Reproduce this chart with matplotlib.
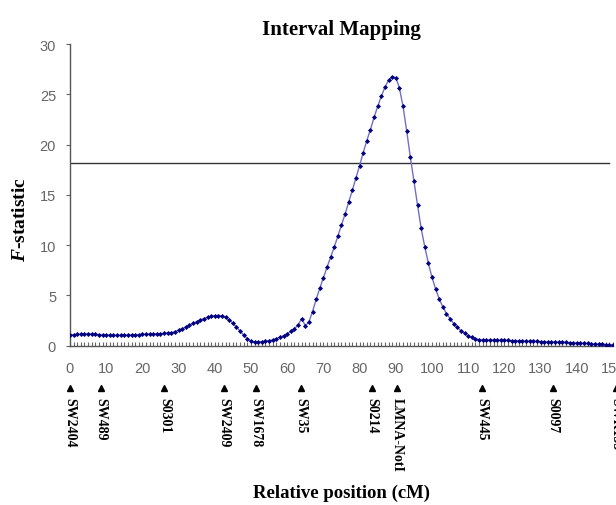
import matplotlib
matplotlib.use('Agg')
import matplotlib.pyplot as plt

plt.rcParams['mathtext.fontset'] = 'custom'
plt.rcParams['mathtext.it'] = 'Liberation Serif:italic:bold'
plt.rcParams['mathtext.rm'] = 'Liberation Serif:bold'

# F-statistic along the chromosome, one point per cM
position = list(range(0, 151))
f_stat = [
    1.05, 1.10, 1.12, 1.15, 1.17, 1.18, 1.17, 1.15, 1.10, 1.07,
    1.05, 1.03, 1.02, 1.02, 1.03, 1.05, 1.07, 1.08, 1.10, 1.10,
    1.12, 1.13, 1.15, 1.17, 1.18, 1.20, 1.22, 1.25, 1.30, 1.40,
    1.55, 1.70, 1.88, 2.05, 2.22, 2.40, 2.55, 2.70, 2.82, 2.92,
    2.98, 3.00, 2.98, 2.82, 2.55, 2.22, 1.85, 1.45, 1.05, 0.70,
    0.45, 0.35, 0.35, 0.40, 0.45, 0.50, 0.58, 0.70, 0.85, 1.00,
    1.20, 1.42, 1.70, 2.05, 2.70, 2.00, 2.35, 3.40, 4.60, 5.70,
    6.75, 7.80, 8.80, 9.80, 10.9, 12.0, 13.1, 14.3, 15.45, 16.7,
    17.9, 19.2, 20.4, 21.5, 22.7, 23.8, 24.8, 25.7, 26.4, 26.75,
    26.65, 25.65, 23.8, 21.4, 18.8, 16.4, 14.0, 11.7, 9.85, 8.2,
    6.8, 5.65, 4.65, 3.86, 3.2, 2.7, 2.2, 1.83, 1.5, 1.23,
    1.0, 0.83, 0.70, 0.60, 0.57, 0.57, 0.57, 0.56, 0.56, 0.55,
    0.54, 0.52, 0.50, 0.48, 0.47, 0.47, 0.46, 0.45, 0.44, 0.42,
    0.41, 0.40, 0.38, 0.37, 0.36, 0.35, 0.33, 0.32, 0.30, 0.28,
    0.27, 0.25, 0.23, 0.22, 0.20, 0.18, 0.16, 0.14, 0.12, 0.11,
    0.10,
]
threshold = 18.2

# marker names and their map positions (cM)
marker_names = ['SW2404', 'SW489', 'S0301', 'SW2409', 'SW1678', 'SW35',
                'S0214', 'LMNA-NotI', 'SW445', 'S0097', 'SWR135']
marker_pos = [0, 8.6, 26.1, 42.5, 51.4, 63.9, 83.3, 90.3, 113.9, 133.3, 150.8]

fig = plt.figure(figsize=(6.16, 5.06), dpi=100)
ax = fig.add_axes([0.1136, 0.3148, 0.8815, 0.5962])

ax.plot(position, f_stat, '-', color='#7070c8', lw=1.0, zorder=2)
ax.plot(position, f_stat, 'D', color='#000080', ms=2.6, mew=0, zorder=3)
ax.plot([0, 149], [threshold, threshold], color='#333333', lw=1.0, zorder=1)

ax.set_xlim(0, 150)
ax.set_ylim(0, 30)
ax.set_xticks(range(0, 151, 10))
ax.set_xticks(range(0, 151, 1), minor=True)
ax.set_yticks(range(0, 31, 5))

for s in ['top', 'right']:
    ax.spines[s].set_visible(False)
for s in ['left', 'bottom']:
    ax.spines[s].set_color('#555555')
    ax.spines[s].set_linewidth(1.0)

ax.tick_params(axis='x', which='both', direction='in', length=3, width=0.8,
               color='#666666', pad=11, labelcolor='#666666')
ax.tick_params(axis='y', direction='out', length=3, width=0.8,
               color='#666666', pad=7, labelcolor='#666666')
for lab in ax.get_xticklabels() + ax.get_yticklabels():
    lab.set_fontfamily('Liberation Sans')
    lab.set_fontsize(10.5)

# marker triangles and names under the axis
trans = ax.get_xaxis_transform()
for name, pos in zip(marker_names, marker_pos):
    ax.plot(pos, -0.14, '^', color='black', ms=5, transform=trans, clip_on=False)
    ax.text(pos, -0.17, name, transform=trans, rotation=270, ha='center', va='top',
            family='Liberation Serif', fontweight='bold', fontsize=10, clip_on=False)

ax.set_title('Interval Mapping', family='Liberation Serif', fontweight='bold',
             fontsize=15, y=1.005)
ax.set_xlabel('Relative position (cM)', family='Liberation Serif', fontweight='bold',
              fontsize=13.5)
ax.xaxis.set_label_coords(0.5, -0.485)
ax.xaxis.label.set_va('center')
ax.set_ylabel(r'$\mathit{F}$-statistic', family='Liberation Serif', fontweight='bold',
              fontsize=14)
ax.yaxis.set_label_coords(-0.092, 0.423)
ax.yaxis.label.set_va('center')

fig.savefig('out.png', dpi=100)
